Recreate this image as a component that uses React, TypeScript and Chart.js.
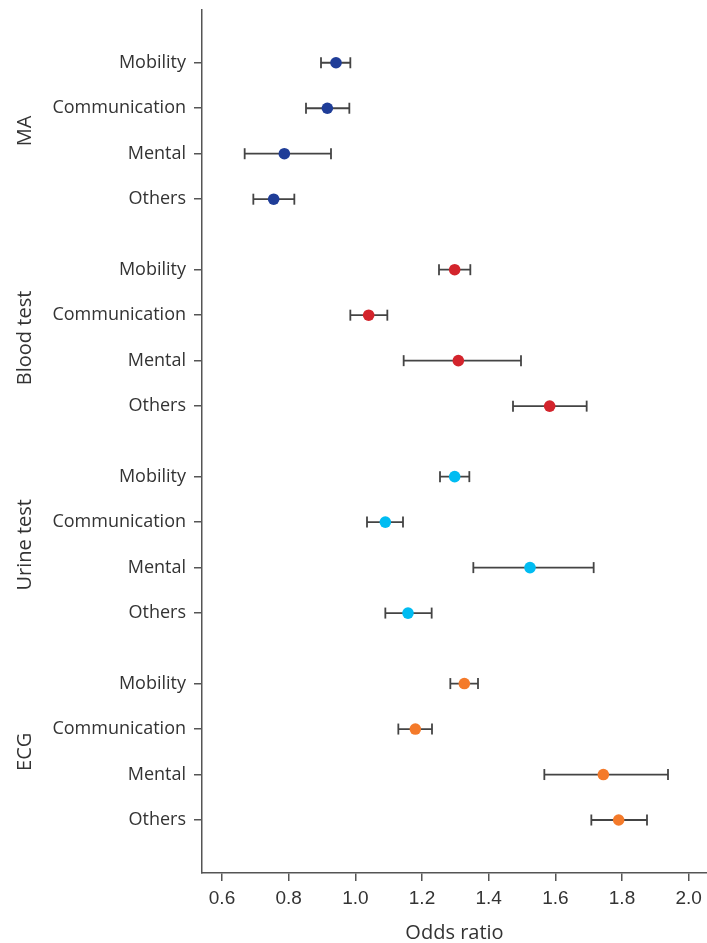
import React, { useEffect, useRef } from "react";
import { Chart, registerables } from "chart.js";

Chart.register(...registerables);

const groups = ["MA", "Blood test", "Urine test", "ECG"];
const items = ["Mobility", "Communication", "Mental", "Others"];
const colors = ["#1f3d98", "#d3242c", "#00bcf2", "#f47a2a"];

const maOR = [0.942, 0.916, 0.787, 0.755];
const maLow = [0.897, 0.852, 0.668, 0.694];
const maHigh = [0.985, 0.982, 0.927, 0.817];

const bloodOR = [1.298, 1.04, 1.309, 1.583];
const bloodLow = [1.251, 0.985, 1.145, 1.473];
const bloodHigh = [1.345, 1.096, 1.497, 1.694];

const urineOR = [1.298, 1.09, 1.524, 1.158];
const urineLow = [1.254, 1.035, 1.354, 1.09];
const urineHigh = [1.342, 1.143, 1.715, 1.229];

const ecgOR = [1.327, 1.18, 1.744, 1.79];
const ecgLow = [1.285, 1.129, 1.567, 1.708];
const ecgHigh = [1.368, 1.23, 1.938, 1.875];

const xTicks = [0.6, 0.8, 1.0, 1.2, 1.4, 1.6, 1.8, 2.0];
const xTickLabels = ["0.6", "0.8", "1.0", "1.2", "1.4", "1.6", "1.8", "2.0"];

const orValues = [maOR, bloodOR, urineOR, ecgOR];
const lowValues = [maLow, bloodLow, urineLow, ecgLow];
const highValues = [maHigh, bloodHigh, urineHigh, ecgHigh];

const GROUP_STEP = 4.55;
const rowPos = (g: number, i: number) => g * GROUP_STEP + i;

const groupLabelPlugin = {
  id: "groupLabels",
  afterDraw(chart: any) {
    const ctx = chart.ctx;
    const yScale = chart.scales.y;
    ctx.save();
    ctx.fillStyle = "#333";
    ctx.font = "20px 'Open Sans'";
    ctx.textAlign = "center";
    ctx.textBaseline = "middle";
    groups.forEach((name, g) => {
      const y = yScale.getPixelForValue(rowPos(g, 1.5));
      ctx.save();
      ctx.translate(25, y);
      ctx.rotate(-Math.PI / 2);
      ctx.fillText(name, 0, 0);
      ctx.restore();
    });
    ctx.restore();
  },
};

export default function App() {
  const ref = useRef<HTMLCanvasElement | null>(null);
  useEffect(() => {
    document.body.style.margin = "0";
    if (!ref.current) return;
    const pointSets = groups.map((name, g) => ({
      type: "scatter" as const,
      label: name,
      data: items.map((_, i) => ({ x: orValues[g][i], y: rowPos(g, i) })),
      backgroundColor: colors[g],
      borderWidth: 0,
      pointRadius: 5.8,
      pointHoverRadius: 5.8,
      order: 0,
    }));
    const ciSets = groups.map((name, g) => {
      const data: any[] = [];
      items.forEach((_, i) => {
        data.push({ x: lowValues[g][i], y: rowPos(g, i) });
        data.push({ x: highValues[g][i], y: rowPos(g, i) });
        data.push({ x: NaN, y: NaN });
      });
      return {
        type: "scatter" as const,
        label: name + " CI",
        data,
        showLine: true,
        spanGaps: false,
        borderColor: "#444",
        borderWidth: 1.8,
        pointStyle: "line" as const,
        rotation: 90,
        pointRadius: 5.5,
        pointHoverRadius: 5.5,
        pointBorderColor: "#444",
        pointBorderWidth: 1.8,
        order: 1,
      };
    });
    const chart = new Chart(ref.current, {
      type: "scatter",
      data: { datasets: [...pointSets, ...ciSets] as any },
      options: {
        animation: false,
        responsive: false,
        events: [],
        layout: { autoPadding: false, padding: { top: 10, right: 0, bottom: 0, left: 0 } },
        plugins: { legend: { display: false }, tooltip: { enabled: false } },
        scales: {
          x: {
            type: "linear",
            min: 0.54,
            max: 2.055,
            afterFit: (s: any) => {
              s.height = 70;
              s.paddingLeft = 0;
              s.paddingRight = 0;
            },
            afterBuildTicks: (s: any) => {
              s.ticks = xTicks.map((v) => ({ value: v }));
            },
            grid: { drawOnChartArea: false, drawTicks: true, tickLength: 8, color: "#555", lineWidth: 1.5 },
            border: { display: true, color: "#555", width: 1.5 },
            ticks: {
              callback: (_v: any, i: number) => xTickLabels[i],
              font: { family: "'Liberation Sans', Arial", size: 19 },
              color: "#333",
              padding: 6,
              maxRotation: 0,
              autoSkip: false,
            },
            title: {
              display: true,
              text: "Odds ratio",
              font: { family: "'Open Sans'", size: 20, lineHeight: 1.0 },
              color: "#333",
              padding: { top: 0, bottom: 0 },
            },
          },
          y: {
            type: "linear",
            reverse: true,
            min: -1.16,
            max: 3 * GROUP_STEP + 3 + 1.165,
            afterFit: (s: any) => {
              s.width = 202;
              s.paddingTop = 0;
              s.paddingBottom = 0;
            },
            afterBuildTicks: (s: any) => {
              const t: any[] = [];
              groups.forEach((_, g) => items.forEach((_, i) => t.push({ value: rowPos(g, i) })));
              s.ticks = t;
            },
            grid: { drawOnChartArea: false, drawTicks: true, tickLength: 8, color: "#555", lineWidth: 1.5 },
            border: { display: true, color: "#555", width: 1.5 },
            ticks: {
              callback: (_v: any, i: number) => items[i % items.length],
              font: { family: "'Open Sans'", size: 18 },
              color: "#333",
              padding: 8,
              autoSkip: false,
            },
          },
        },
      },
      plugins: [groupLabelPlugin],
    });
    return () => chart.destroy();
  }, []);
  return (
    <div style={{ width: 707, height: 943 }}>
      <canvas ref={ref} width={707} height={943} style={{ width: 707, height: 943, display: "block" }} />
    </div>
  );
}
